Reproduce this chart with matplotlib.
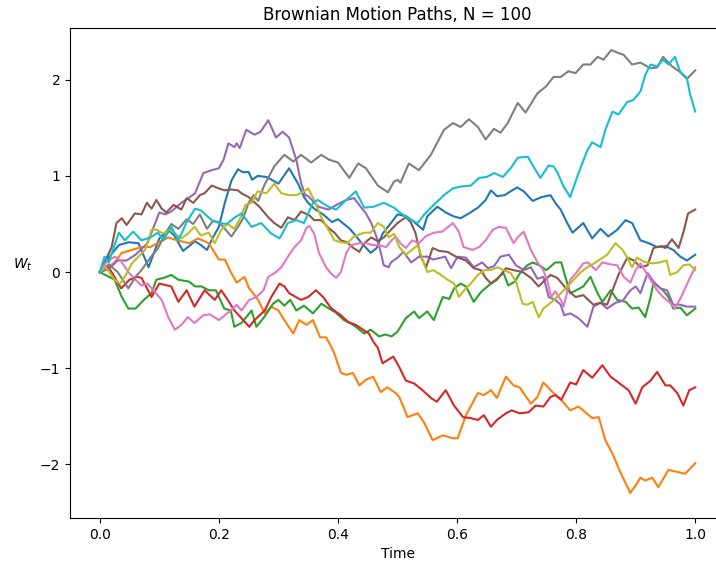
import matplotlib
matplotlib.use("Agg")
import matplotlib.pyplot as plt

title = "Brownian Motion Paths, N = 100"
xlabel = "Time"
ylabel = r"$W_t$"

# (time, W) readings for each path, tab10 colour order
path_blue = [(0,0),(0.015,0.15),(0.032,0.28),(0.048,0.31),(0.065,0.3),(0.082,0.05),(0.1,0.35),(0.115,0.44),
             (0.125,0.38),(0.14,0.22),(0.16,0.32),(0.17,0.28),(0.18,0.23),(0.19,0.36),(0.2,0.47),(0.21,0.72),
             (0.221,0.95),(0.232,1.07),(0.24,1.04),(0.25,1.04),(0.256,0.96),(0.265,1.0),(0.28,0.99),(0.3,0.92),
             (0.318,1.08),(0.333,0.92),(0.343,0.78),(0.35,0.72),(0.36,0.66),(0.375,0.6),(0.39,0.52),(0.4,0.55),
             (0.42,0.45),(0.44,0.3),(0.455,0.2),(0.465,0.25),(0.475,0.4),(0.489,0.51),(0.5,0.6),(0.515,0.58),
             (0.528,0.52),(0.543,0.44),(0.55,0.58),(0.567,0.68),(0.581,0.62),(0.594,0.58),(0.606,0.56),(0.62,0.61),
             (0.635,0.67),(0.648,0.75),(0.657,0.85),(0.667,0.79),(0.68,0.8),(0.69,0.84),(0.701,0.88),(0.712,0.84),
             (0.727,0.74),(0.742,0.78),(0.757,0.8),(0.765,0.72),(0.774,0.65),(0.785,0.51),(0.794,0.41),(0.812,0.51),
             (0.827,0.35),(0.841,0.45),(0.854,0.37),(0.869,0.44),(0.883,0.54),(0.894,0.51),(0.908,0.33),(0.922,0.3),
             (0.936,0.26),(0.95,0.27),(0.963,0.23),(0.975,0.16),(0.986,0.12),(1.0,0.18)]

path_orange = [(0,0),(0.025,0.1),(0.037,0.2),(0.054,0.23),(0.07,0.26),(0.085,0.26),(0.1,0.31),(0.115,0.36),
               (0.13,0.33),(0.15,0.3),(0.165,0.35),(0.183,0.3),(0.2,0.13),(0.21,0.13),(0.22,0.0),(0.23,-0.11),
               (0.243,-0.05),(0.25,-0.16),(0.266,-0.29),(0.277,-0.43),(0.288,-0.36),(0.3,-0.4),(0.313,-0.53),
               (0.325,-0.64),(0.335,-0.5),(0.347,-0.55),(0.358,-0.5),(0.37,-0.68),(0.38,-0.68),(0.389,-0.78),
               (0.394,-0.85),(0.405,-1.05),(0.414,-1.07),(0.425,-1.05),(0.436,-1.18),(0.447,-1.12),(0.459,-1.09),
               (0.472,-1.25),(0.483,-1.2),(0.497,-1.26),(0.503,-1.3),(0.517,-1.51),(0.534,-1.47),(0.545,-1.57),
               (0.559,-1.75),(0.576,-1.7),(0.593,-1.73),(0.601,-1.73),(0.615,-1.49),(0.635,-1.26),(0.645,-1.28),
               (0.657,-1.23),(0.667,-1.31),(0.682,-1.09),(0.695,-1.18),(0.705,-1.2),(0.724,-1.37),(0.735,-1.3),
               (0.745,-1.15),(0.762,-1.26),(0.775,-1.33),(0.79,-1.44),(0.804,-1.4),(0.827,-1.52),(0.838,-1.51),
               (0.849,-1.75),(0.861,-1.89),(0.874,-2.08),(0.891,-2.3),(0.9,-2.22),(0.908,-2.14),(0.916,-2.17),
               (0.928,-2.14),(0.938,-2.24),(0.955,-2.06),(0.97,-2.08),(0.983,-2.1),(1.0,-1.99)]

path_green = [(0,0),(0.025,-0.08),(0.037,-0.26),(0.048,-0.38),(0.06,-0.38),(0.074,-0.29),(0.087,-0.22),
              (0.095,-0.08),(0.108,-0.06),(0.12,-0.03),(0.132,-0.08),(0.15,-0.1),(0.16,-0.15),(0.171,-0.15),
              (0.183,-0.19),(0.195,-0.19),(0.209,-0.38),(0.22,-0.4),(0.226,-0.57),(0.238,-0.53),(0.255,-0.4),
              (0.263,-0.57),(0.276,-0.47),(0.291,-0.33),(0.3,-0.29),(0.31,-0.35),(0.32,-0.29),(0.33,-0.4),
              (0.343,-0.35),(0.358,-0.43),(0.372,-0.33),(0.385,-0.38),(0.396,-0.42),(0.41,-0.5),(0.42,-0.53),
              (0.43,-0.57),(0.444,-0.64),(0.455,-0.6),(0.469,-0.67),(0.48,-0.65),(0.49,-0.67),(0.5,-0.62),
              (0.514,-0.48),(0.528,-0.41),(0.536,-0.48),(0.55,-0.41),(0.561,-0.5),(0.576,-0.26),(0.587,-0.28),
              (0.595,-0.17),(0.606,-0.12),(0.615,-0.15),(0.628,-0.31),(0.64,-0.21),(0.653,-0.14),(0.667,-0.07),
              (0.678,-0.01),(0.686,-0.14),(0.697,-0.1),(0.707,0.0),(0.718,0.07),(0.727,0.1),(0.738,0.07),
              (0.75,0.02),(0.765,0.1),(0.775,0.1),(0.78,-0.01),(0.79,-0.22),(0.8,-0.19),(0.812,-0.15),
              (0.824,-0.05),(0.836,-0.22),(0.844,-0.31),(0.858,-0.19),(0.869,-0.29),(0.883,-0.31),(0.894,-0.38),
              (0.905,-0.37),(0.916,-0.47),(0.925,-0.26),(0.93,-0.11),(0.946,-0.19),(0.955,-0.26),(0.963,-0.38),
              (0.975,-0.37),(0.986,-0.45),(1.0,-0.38)]

path_red = [(0,0),(0.015,0.05),(0.036,-0.17),(0.05,-0.08),(0.062,-0.05),(0.07,-0.06),(0.087,-0.26),(0.1,-0.12),
            (0.12,-0.15),(0.132,-0.31),(0.146,-0.19),(0.159,-0.36),(0.176,-0.19),(0.193,-0.29),(0.204,-0.19),
            (0.215,-0.29),(0.226,-0.4),(0.238,-0.48),(0.251,-0.57),(0.26,-0.5),(0.277,-0.4),(0.288,-0.26),
            (0.302,-0.12),(0.31,-0.15),(0.318,-0.22),(0.338,-0.29),(0.35,-0.26),(0.363,-0.19),(0.375,-0.26),
            (0.389,-0.38),(0.405,-0.45),(0.417,-0.52),(0.43,-0.55),(0.442,-0.6),(0.452,-0.64),(0.46,-0.73),
            (0.467,-0.79),(0.475,-0.95),(0.485,-0.91),(0.493,-0.88),(0.503,-0.99),(0.514,-1.13),(0.528,-1.16),
            (0.542,-1.23),(0.556,-1.31),(0.566,-1.35),(0.581,-1.23),(0.595,-1.39),(0.61,-1.51),(0.623,-1.52),
            (0.635,-1.54),(0.645,-1.49),(0.657,-1.61),(0.667,-1.54),(0.682,-1.47),(0.692,-1.44),(0.705,-1.47),
            (0.72,-1.46),(0.732,-1.39),(0.745,-1.4),(0.757,-1.3),(0.765,-1.28),(0.775,-1.33),(0.79,-1.15),
            (0.8,-1.17),(0.812,-1.02),(0.827,-1.1),(0.844,-0.97),(0.858,-1.09),(0.871,-1.15),(0.888,-1.23),
            (0.9,-1.37),(0.911,-1.2),(0.925,-1.13),(0.936,-1.04),(0.95,-1.18),(0.958,-1.18),(0.97,-1.26),
            (0.98,-1.39),(0.99,-1.23),(1.0,-1.2)]

path_purple = [(0,0),(0.015,0.03),(0.03,0.12),(0.045,0.12),(0.06,0.18),(0.08,0.3),(0.1,0.62),(0.11,0.6),
               (0.12,0.63),(0.137,0.72),(0.149,0.77),(0.16,0.82),(0.174,1.03),(0.188,1.06),(0.2,1.08),
               (0.208,1.17),(0.216,1.34),(0.226,1.3),(0.23,1.34),(0.235,1.29),(0.246,1.48),(0.26,1.43),
               (0.27,1.46),(0.283,1.58),(0.296,1.4),(0.307,1.46),(0.318,1.4),(0.33,1.17),(0.338,0.93),
               (0.345,0.8),(0.35,0.79),(0.367,0.68),(0.384,0.65),(0.398,0.7),(0.414,0.75),(0.427,0.77),
               (0.438,0.68),(0.447,0.61),(0.456,0.51),(0.467,0.33),(0.477,0.07),(0.485,0.05),(0.489,0.1),
               (0.5,0.15),(0.51,0.21),(0.523,0.1),(0.536,0.16),(0.55,0.16),(0.56,0.13),(0.58,0.16),(0.59,0.04),
               (0.601,0.16),(0.615,0.15),(0.628,0.05),(0.642,0.1),(0.652,0.04),(0.662,0.06),(0.673,0.16),
               (0.687,0.18),(0.699,0.07),(0.712,0.02),(0.724,0.05),(0.735,-0.07),(0.745,-0.05),(0.754,-0.26),
               (0.765,-0.29),(0.774,-0.34),(0.78,-0.45),(0.79,-0.43),(0.804,-0.48),(0.819,-0.57),(0.829,-0.36),
               (0.841,-0.32),(0.852,-0.38),(0.866,-0.32),(0.878,-0.3),(0.891,-0.19),(0.9,-0.15),(0.908,-0.22),
               (0.92,-0.01),(0.93,-0.1),(0.941,-0.17),(0.953,-0.19),(0.963,-0.34),(0.975,-0.34),(0.986,-0.36),
               (1.0,-0.36)]

path_brown = [(0,0),(0.02,0.26),(0.028,0.51),(0.037,0.56),(0.045,0.49),(0.059,0.61),(0.07,0.6),(0.079,0.72),
              (0.087,0.66),(0.095,0.75),(0.104,0.66),(0.112,0.62),(0.124,0.7),(0.137,0.65),(0.146,0.77),
              (0.157,0.72),(0.168,0.8),(0.176,0.82),(0.188,0.9),(0.2,0.87),(0.21,0.85),(0.22,0.86),(0.232,0.85),
              (0.238,0.82),(0.25,0.78),(0.268,0.68),(0.283,0.57),(0.293,0.51),(0.305,0.46),(0.316,0.57),
              (0.327,0.54),(0.338,0.63),(0.352,0.59),(0.36,0.54),(0.372,0.54),(0.384,0.46),(0.394,0.41),
              (0.405,0.33),(0.415,0.31),(0.426,0.25),(0.436,0.21),(0.444,0.3),(0.456,0.36),(0.467,0.32),
              (0.477,0.36),(0.489,0.44),(0.5,0.51),(0.514,0.57),(0.522,0.52),(0.53,0.41),(0.539,0.16),
              (0.548,0.05),(0.559,0.25),(0.57,0.22),(0.584,0.21),(0.601,0.15),(0.615,0.12),(0.628,0.04),
              (0.64,0.02),(0.648,-0.06),(0.657,-0.12),(0.667,-0.08),(0.682,0.04),(0.695,0.02),(0.71,0.0),
              (0.724,-0.06),(0.737,-0.15),(0.745,-0.1),(0.757,-0.03),(0.768,-0.06),(0.786,-0.19),(0.799,-0.26),
              (0.812,-0.24),(0.829,-0.34),(0.84,-0.32),(0.852,-0.34),(0.861,-0.19),(0.871,-0.03),(0.886,0.15),
              (0.897,0.12),(0.908,0.05),(0.92,0.07),(0.93,0.25),(0.942,0.27),(0.95,0.25),(0.961,0.34),
              (0.972,0.25),(0.98,0.41),(0.988,0.61),(1.0,0.65)]

path_pink = [(0,0),(0.01,0.1),(0.025,0.16),(0.035,0.12),(0.048,0.0),(0.06,-0.08),(0.07,-0.14),(0.08,-0.12),
             (0.09,-0.19),(0.104,-0.29),(0.115,-0.47),(0.126,-0.6),(0.137,-0.55),(0.148,-0.47),(0.159,-0.53),
             (0.174,-0.45),(0.185,-0.44),(0.2,-0.5),(0.21,-0.45),(0.22,-0.4),(0.23,-0.34),(0.238,-0.4),
             (0.251,-0.29),(0.263,-0.26),(0.275,-0.19),(0.283,-0.05),(0.294,-0.01),(0.305,0.05),(0.316,0.16),
             (0.327,0.26),(0.338,0.33),(0.347,0.46),(0.352,0.48),(0.36,0.4),(0.368,0.2),(0.38,0.05),
             (0.389,-0.02),(0.397,-0.06),(0.405,0.0),(0.414,0.2),(0.422,0.28),(0.436,0.3),(0.447,0.3),
             (0.459,0.28),(0.47,0.28),(0.481,0.26),(0.49,0.33),(0.497,0.37),(0.505,0.3),(0.514,0.25),
             (0.525,0.33),(0.536,0.3),(0.547,0.37),(0.561,0.41),(0.575,0.42),(0.593,0.51),(0.603,0.42),
             (0.611,0.26),(0.626,0.23),(0.637,0.26),(0.648,0.33),(0.66,0.44),(0.67,0.47),(0.682,0.46),
             (0.695,0.3),(0.703,0.37),(0.712,0.42),(0.724,0.23),(0.735,0.1),(0.745,0.02),(0.752,-0.1),
             (0.758,-0.26),(0.765,-0.2),(0.775,-0.3),(0.779,-0.36),(0.79,-0.08),(0.8,-0.01),(0.812,0.09),
             (0.82,0.1),(0.833,0.02),(0.844,0.1),(0.858,0.08),(0.869,0.07),(0.88,-0.05),(0.891,-0.11),
             (0.9,0.02),(0.908,0.09),(0.92,-0.03),(0.936,-0.19),(0.946,-0.26),(0.958,-0.32),(0.966,-0.38),
             (0.978,-0.24),(0.988,-0.1),(1.0,0.05)]

path_gray = [(0,0),(0.015,0.08),(0.03,0.0),(0.048,-0.17),(0.06,-0.05),(0.07,0.02),(0.085,0.15),(0.098,0.25),
             (0.11,0.4),(0.12,0.5),(0.132,0.45),(0.146,0.55),(0.157,0.5),(0.168,0.6),(0.18,0.45),(0.19,0.53),
             (0.2,0.52),(0.21,0.45),(0.221,0.37),(0.232,0.47),(0.24,0.55),(0.25,0.72),(0.258,0.8),(0.266,0.74),
             (0.276,0.9),(0.293,1.1),(0.31,1.22),(0.325,1.15),(0.338,1.22),(0.355,1.14),(0.372,1.22),
             (0.385,1.17),(0.4,1.14),(0.419,0.98),(0.434,1.13),(0.447,1.08),(0.467,0.9),(0.484,0.83),
             (0.494,0.94),(0.5,0.96),(0.505,0.93),(0.519,1.13),(0.536,1.06),(0.556,1.22),(0.578,1.48),
             (0.593,1.55),(0.606,1.51),(0.62,1.59),(0.635,1.51),(0.648,1.38),(0.662,1.49),(0.673,1.45),
             (0.685,1.55),(0.702,1.76),(0.715,1.66),(0.735,1.86),(0.749,1.93),(0.762,2.03),(0.774,2.03),
             (0.787,2.09),(0.799,2.07),(0.812,2.16),(0.824,2.16),(0.836,2.24),(0.846,2.21),(0.859,2.31),
             (0.871,2.28),(0.88,2.26),(0.894,2.16),(0.908,2.18),(0.925,2.12),(0.936,2.13),(0.946,2.24),
             (0.961,2.14),(0.975,2.08),(0.986,2.01),(1.0,2.1)]

path_olive = [(0,0),(0.01,0.05),(0.025,-0.08),(0.034,-0.12),(0.042,-0.05),(0.054,0.09),(0.065,0.16),
              (0.076,0.23),(0.087,0.44),(0.095,0.44),(0.107,0.4),(0.118,0.44),(0.126,0.4),(0.137,0.35),
              (0.148,0.4),(0.159,0.47),(0.17,0.38),(0.183,0.41),(0.193,0.3),(0.204,0.44),(0.215,0.5),
              (0.226,0.45),(0.235,0.55),(0.245,0.7),(0.255,0.72),(0.265,0.84),(0.28,0.82),(0.293,0.92),
              (0.305,0.82),(0.318,0.8),(0.33,0.8),(0.343,0.84),(0.35,0.87),(0.36,0.75),(0.372,0.57),
              (0.384,0.44),(0.394,0.33),(0.405,0.31),(0.416,0.3),(0.427,0.37),(0.444,0.41),(0.455,0.41),
              (0.467,0.51),(0.477,0.47),(0.485,0.36),(0.494,0.4),(0.503,0.26),(0.514,0.18),(0.522,0.22),
              (0.534,0.28),(0.542,0.13),(0.55,0.0),(0.56,0.02),(0.573,-0.03),(0.584,-0.08),(0.595,-0.12),
              (0.603,-0.26),(0.612,-0.19),(0.623,-0.12),(0.635,-0.03),(0.646,0.02),(0.657,0.02),(0.668,0.05),
              (0.678,0.02),(0.69,-0.01),(0.699,-0.1),(0.71,-0.33),(0.718,-0.34),(0.727,-0.31),(0.737,-0.47),
              (0.745,-0.38),(0.757,-0.32),(0.768,-0.26),(0.779,-0.19),(0.788,-0.13),(0.796,-0.08),(0.808,0.0),
              (0.819,0.05),(0.83,0.09),(0.84,0.13),(0.852,0.18),(0.866,0.3),(0.878,0.23),(0.886,0.15),
              (0.894,0.05),(0.902,0.15),(0.913,0.11),(0.928,0.09),(0.94,0.1),(0.952,0.12),(0.958,-0.03),
              (0.97,0.0),(0.98,0.07),(0.99,0.08),(1.0,0.02)]

path_cyan = [(0,0),(0.008,0.16),(0.015,0.1),(0.032,0.41),(0.042,0.33),(0.056,0.42),(0.07,0.33),(0.085,0.36),
             (0.098,0.41),(0.107,0.33),(0.12,0.47),(0.132,0.33),(0.146,0.52),(0.16,0.66),(0.17,0.64),
             (0.188,0.54),(0.2,0.51),(0.213,0.5),(0.225,0.56),(0.238,0.61),(0.255,0.47),(0.271,0.51),
             (0.288,0.4),(0.302,0.35),(0.316,0.51),(0.33,0.54),(0.343,0.51),(0.358,0.72),(0.366,0.75),
             (0.384,0.68),(0.397,0.65),(0.414,0.75),(0.43,0.84),(0.444,0.67),(0.46,0.68),(0.477,0.72),
             (0.494,0.67),(0.506,0.61),(0.523,0.54),(0.534,0.51),(0.545,0.6),(0.561,0.7),(0.578,0.8),
             (0.593,0.87),(0.606,0.89),(0.623,0.9),(0.637,0.98),(0.65,0.99),(0.662,1.03),(0.677,0.99),
             (0.69,1.08),(0.702,1.19),(0.719,1.2),(0.729,1.09),(0.74,0.98),(0.754,1.11),(0.762,1.1),
             (0.769,1.03),(0.779,0.89),(0.79,0.78),(0.804,1.03),(0.819,1.27),(0.827,1.35),(0.841,1.3),
             (0.849,1.48),(0.861,1.67),(0.871,1.64),(0.886,1.77),(0.896,1.79),(0.908,1.88),(0.916,2.05),
             (0.925,2.16),(0.936,2.14),(0.946,2.21),(0.955,2.16),(0.966,2.24),(0.975,2.08),(0.986,2.02),
             (0.991,1.86),(1.0,1.67)]

paths = [path_blue, path_orange, path_green, path_red, path_purple,
         path_brown, path_pink, path_gray, path_olive, path_cyan]

fig = plt.figure(figsize=(7.16, 5.77), dpi=100)
ax = fig.add_axes([70/716, 59/577, 655/716, 490/577])

for p in paths:
    t = [q[0] for q in p]
    w = [q[1] for q in p]
    ax.plot(t, w, lw=1.5, solid_joinstyle="round")

ax.set_xlim(-0.05, 1.05)
ax.set_ylim(-2.56, 2.54)
ax.set_xticks([0.0, 0.2, 0.4, 0.6, 0.8, 1.0])
ax.set_yticks([-2, -1, 0, 1, 2])
ax.set_title(title, fontsize=12)
ax.set_xlabel(xlabel)
ax.set_ylabel(ylabel, rotation=0, labelpad=12)

fig.savefig("out.png", dpi=100)
